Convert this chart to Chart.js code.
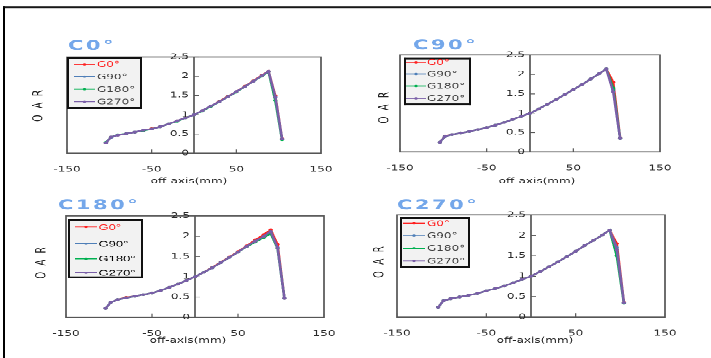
<!DOCTYPE html>
<html>
<head>
<meta charset="utf-8">
<script src="https://cdn.jsdelivr.net/npm/chart.js@4.4.0/dist/chart.umd.min.js"></script>
<style>
  html, body { margin: 0; padding: 0; background: #fff; overflow: hidden; }
  /* the reference looks squashed vertically, so the page is drawn tall and scaled down */
  #page { position: absolute; left: 0; top: 0; width: 711px; height: 568px; transform: scaleY(0.63); transform-origin: 0 0; }
  #frame { position: absolute; left: 3px; top: 10px; width: 760px; height: 640px; border-top: 3px solid #000; border-left: 2px solid #000; }
  canvas { position: absolute; }
</style>
</head>
<body>
<div id="page">
  <div id="frame"></div>
  <canvas id="c0" width="355" height="300" style="left:0;top:0"></canvas>
  <canvas id="c1" width="356" height="300" style="left:355px;top:0"></canvas>
  <canvas id="c2" width="355" height="268" style="left:0;top:300px"></canvas>
  <canvas id="c3" width="356" height="268" style="left:355px;top:300px"></canvas>
</div>
<script>
// --- data ---
const offAxis = [-104, -98, -90, -80, -70, -60, -50, -40, -30, -20, -10, 0, 10, 20, 30, 40, 50, 60, 70, 80, 88, 96, 104];
const gantryLabels = ["G0°", "G90°", "G180°", "G270°"];
const collimatorTitles = ["C0°", "C90°", "C180°", "C270°"];
const xTickValues = [-150, -50, 50, 150];
const yTickValues = [0, 0.5, 1, 1.5, 2, 2.5];

const c0_g0   = [0.27, 0.42, 0.47, 0.51, 0.55, 0.59, 0.64, 0.69, 0.76, 0.84, 0.92, 1.00, 1.11, 1.22, 1.35, 1.48, 1.60, 1.74, 1.88, 2.02, 2.13, 1.50, 0.38];
const c0_g90  = [0.27, 0.41, 0.47, 0.51, 0.55, 0.59, 0.63, 0.69, 0.76, 0.84, 0.92, 1.00, 1.11, 1.22, 1.34, 1.47, 1.60, 1.73, 1.87, 2.01, 2.12, 1.45, 0.37];
const c0_g180 = [0.28, 0.42, 0.48, 0.51, 0.55, 0.59, 0.63, 0.69, 0.76, 0.83, 0.92, 1.00, 1.10, 1.22, 1.34, 1.47, 1.59, 1.73, 1.87, 2.00, 2.12, 1.37, 0.35];
const c0_g270 = [0.27, 0.42, 0.47, 0.51, 0.55, 0.60, 0.63, 0.69, 0.76, 0.84, 0.92, 1.00, 1.11, 1.23, 1.34, 1.47, 1.60, 1.73, 1.87, 2.01, 2.13, 1.47, 0.37];

const c90_g0   = [0.25, 0.41, 0.45, 0.49, 0.53, 0.58, 0.63, 0.69, 0.76, 0.84, 0.92, 1.00, 1.11, 1.23, 1.35, 1.48, 1.61, 1.74, 1.88, 2.02, 2.14, 1.80, 0.36];
const c90_g90  = [0.25, 0.40, 0.45, 0.49, 0.53, 0.58, 0.63, 0.69, 0.76, 0.84, 0.92, 1.00, 1.11, 1.23, 1.35, 1.48, 1.61, 1.74, 1.88, 2.02, 2.14, 1.60, 0.35];
const c90_g180 = [0.25, 0.40, 0.45, 0.49, 0.53, 0.58, 0.63, 0.69, 0.76, 0.84, 0.92, 1.00, 1.11, 1.23, 1.35, 1.48, 1.61, 1.74, 1.88, 2.02, 2.14, 1.65, 0.35];
const c90_g270 = [0.25, 0.40, 0.45, 0.49, 0.53, 0.58, 0.63, 0.69, 0.76, 0.84, 0.92, 1.00, 1.11, 1.23, 1.35, 1.48, 1.61, 1.74, 1.88, 2.02, 2.14, 1.55, 0.35];

const c180_g0   = [0.22, 0.37, 0.44, 0.49, 0.52, 0.56, 0.60, 0.66, 0.74, 0.82, 0.91, 1.00, 1.11, 1.23, 1.36, 1.49, 1.62, 1.76, 1.91, 2.04, 2.16, 1.80, 0.47];
const c180_g90  = [0.22, 0.37, 0.44, 0.48, 0.52, 0.56, 0.60, 0.66, 0.74, 0.82, 0.91, 1.00, 1.11, 1.22, 1.35, 1.48, 1.61, 1.75, 1.88, 2.00, 2.12, 1.72, 0.47];
const c180_g180 = [0.22, 0.37, 0.44, 0.48, 0.52, 0.56, 0.60, 0.66, 0.74, 0.82, 0.91, 1.00, 1.11, 1.22, 1.35, 1.48, 1.61, 1.74, 1.86, 1.97, 2.07, 1.70, 0.47];
const c180_g270 = [0.22, 0.37, 0.44, 0.48, 0.52, 0.56, 0.60, 0.66, 0.74, 0.82, 0.91, 1.00, 1.11, 1.22, 1.35, 1.48, 1.61, 1.75, 1.88, 2.00, 2.12, 1.72, 0.47];

const c270_g0   = [0.24, 0.40, 0.45, 0.49, 0.53, 0.58, 0.64, 0.70, 0.76, 0.84, 0.92, 1.00, 1.11, 1.23, 1.35, 1.48, 1.61, 1.75, 1.88, 2.01, 2.13, 1.80, 0.36];
const c270_g90  = [0.24, 0.40, 0.45, 0.49, 0.53, 0.58, 0.64, 0.70, 0.76, 0.84, 0.92, 1.00, 1.11, 1.23, 1.35, 1.48, 1.61, 1.75, 1.88, 2.01, 2.13, 1.70, 0.35];
const c270_g180 = [0.24, 0.40, 0.45, 0.49, 0.53, 0.58, 0.64, 0.70, 0.76, 0.84, 0.92, 1.00, 1.11, 1.23, 1.35, 1.48, 1.61, 1.75, 1.88, 2.01, 2.13, 1.50, 0.34];
const c270_g270 = [0.24, 0.40, 0.45, 0.49, 0.53, 0.58, 0.64, 0.70, 0.76, 0.84, 0.92, 1.00, 1.11, 1.23, 1.35, 1.48, 1.61, 1.75, 1.88, 2.01, 2.13, 1.65, 0.35];

const seriesColors = ["#ff2020", "#4f7fb8", "#00b050", "#7a5fa8"];

// --- layout of the four panels (canvas-local, in unscaled page units) ---
const panels = [
  { id: "c0", series: [c0_g0, c0_g90, c0_g180, c0_g270],
    area: { left: 67, right: 321, top: 90.5, bottom: 243.3 },
    title: [68, 79], oar: [39, 168], xLabel: [189, 288],
    legend: { x: 67, y: 90.5, w: 75, h: 82.5, rows: [102, 121.7, 141.7, 161.4], line: [74, 95], text: 97, font: "12px 'DejaVu Sans'", ink: "#404040" } },
  { id: "c1", series: [c90_g0, c90_g90, c90_g180, c90_g270],
    area: { left: 45, right: 305, top: 87.3, bottom: 241.3 },
    title: [58, 78], oar: [30, 171], xLabel: [182, 288],
    legend: { x: 49, y: 91.6, w: 67, h: 75.5, rows: [98.9, 117.5, 136.5, 156], line: [51, 71], text: 72, font: "12px 'DejaVu Sans'", ink: "#404040" } },
  { id: "c2", series: [c180_g0, c180_g90, c180_g180, c180_g270],
    area: { left: 66, right: 324, top: 42.9, bottom: 203.7 },
    title: [58, 32], oar: [42, 117.5], xLabel: [188, 241],
    legend: { x: 68, y: 48, w: 75, h: 93.7, rows: [60.3, 86.8, 110.6, 132.9], line: [75, 97], text: 98.5, font: "13px 'Liberation Sans'", ink: "#000" } },
  { id: "c3", series: [c270_g0, c270_g90, c270_g180, c270_g270],
    area: { left: 42, right: 310, top: 41.3, bottom: 203.2 },
    title: [42, 32], oar: [25, 116], xLabel: [180, 241],
    legend: { x: 45, y: 44, w: 70, h: 81, rows: [54.5, 74.1, 94.1, 114.3], line: [48, 70], text: 72, font: "12px 'DejaVu Sans'", ink: "#404040" } }
];

Chart.defaults.font.family = "'DejaVu Sans'";
Chart.defaults.color = "#333";

function spacedText(ctx, text, cx, cy, gap) {
  const widths = [...text].map(ch => ctx.measureText(ch).width);
  const total = widths.reduce((s, w) => s + w, 0) + gap * (widths.length - 1);
  let pos = cx - total / 2;
  [...text].forEach((ch, i) => { ctx.fillText(ch, pos, cy); pos += widths[i] + gap; });
}

function panelPlugin(p, idx) {
  return {
    id: "panel" + idx,
    beforeDatasetsDraw(chart) {
      const { ctx, chartArea: a, scales: { x, y } } = chart;
      const x0 = x.getPixelForValue(0);
      ctx.save();
      ctx.strokeStyle = "#555";
      ctx.lineWidth = 1.7;
      ctx.strokeRect(a.left, a.top, a.right - a.left, a.bottom - a.top);
      ctx.beginPath(); ctx.moveTo(x0, a.top); ctx.lineTo(x0, a.bottom); ctx.stroke();
      ctx.lineWidth = 1.2;
      yTickValues.forEach(v => {
        const py = y.getPixelForValue(v);
        ctx.beginPath(); ctx.moveTo(x0, py); ctx.lineTo(x0 + 5, py); ctx.stroke();
      });
      xTickValues.forEach(v => {
        const px = x.getPixelForValue(v);
        ctx.beginPath(); ctx.moveTo(px, a.bottom); ctx.lineTo(px, a.bottom - 6); ctx.stroke();
      });
      ctx.restore();
    },
    afterDraw(chart) {
      const { ctx, scales: { x, y } } = chart;
      const x0 = x.getPixelForValue(0);
      ctx.save();
      // y tick labels, left of the centre axis
      ctx.font = "12px 'DejaVu Sans'";
      ctx.fillStyle = "#2a2a2a";
      ctx.textAlign = "right";
      ctx.textBaseline = "middle";
      yTickValues.forEach(v => ctx.fillText(String(v), x0 - 5, y.getPixelForValue(v)));

      // legend box
      const L = p.legend;
      ctx.fillStyle = "#f2f2f2";
      ctx.fillRect(L.x, L.y, L.w, L.h);
      ctx.fillStyle = "#111";
      ctx.fillRect(L.x, L.y, L.w, 3);
      ctx.fillRect(L.x, L.y + L.h - 3, L.w, 3);
      ctx.fillRect(L.x, L.y, 2, L.h);
      ctx.fillRect(L.x + L.w - 2, L.y, 2, L.h);
      ctx.font = L.font;
      ctx.textAlign = "left";
      gantryLabels.forEach((lab, i) => {
        const ry = L.rows[i];
        ctx.strokeStyle = seriesColors[i];
        ctx.lineWidth = 1.8;
        ctx.beginPath(); ctx.moveTo(L.line[0], ry); ctx.lineTo(L.line[1], ry); ctx.stroke();
        ctx.fillStyle = seriesColors[i];
        ctx.beginPath(); ctx.arc((L.line[0] + L.line[1]) / 2, ry, 1.8, 0, Math.PI * 2); ctx.fill();
        ctx.fillStyle = i === 0 ? seriesColors[0] : L.ink;
        ctx.fillText(lab, L.text, ry + 1);
      });

      // panel title, loosely spaced
      ctx.font = "bold 21px 'DejaVu Sans'";
      ctx.fillStyle = "#74a7ea";
      ctx.textBaseline = "alphabetic";
      let tx = p.title[0];
      [...collimatorTitles[idx]].forEach(ch => { ctx.fillText(ch, tx, p.title[1]); tx += ctx.measureText(ch).width + 2.5; });

      // axis titles
      ctx.fillStyle = "#222";
      ctx.font = "12px 'DejaVu Sans'";
      ctx.textAlign = "center";
      ctx.textBaseline = "middle";
      ctx.fillText("off-axis(mm)", p.xLabel[0], p.xLabel[1]);
      ctx.save();
      ctx.translate(p.oar[0], p.oar[1]);
      ctx.rotate(-Math.PI / 2);
      ctx.font = "14px 'DejaVu Sans'";
      ctx.textAlign = "left";
      spacedText(ctx, "OAR", 0, 0, 10);
      ctx.restore();
      ctx.restore();
    }
  };
}

panels.forEach((p, idx) => {
  const canvas = document.getElementById(p.id);
  const W = canvas.width, H = canvas.height;
  const pad = { left: p.area.left, top: p.area.top, right: W - p.area.right, bottom: H - p.area.bottom - 30 };
  const datasets = p.series.map((vals, i) => ({
    label: gantryLabels[i],
    data: offAxis.map((xv, k) => ({ x: xv, y: vals[k] })),
    borderColor: seriesColors[i],
    backgroundColor: seriesColors[i],
    borderWidth: 2.5,
    pointRadius: 2.2,
    pointBorderWidth: 0,
    tension: 0,
    order: 4 - i
  }));
  const chart = new Chart(canvas, {
    type: "line",
    data: { datasets },
    options: {
      responsive: false,
      animation: false,
      devicePixelRatio: 2,
      layout: { padding: pad },
      plugins: { legend: { display: false }, tooltip: { enabled: false } },
      scales: {
        x: {
          type: "linear", min: -150, max: 150,
          grid: { display: false, drawTicks: false },
          border: { display: false },
          afterBuildTicks: s => { s.ticks = xTickValues.map(v => ({ value: v })); },
          ticks: { padding: 19, font: { size: 12 }, color: "#2a2a2a", maxRotation: 0, autoSkip: false }
        },
        y: {
          type: "linear", min: 0, max: 2.5,
          position: { x: 0 },
          grid: { display: false, drawTicks: false },
          border: { display: false },
          afterBuildTicks: s => { s.ticks = yTickValues.map(v => ({ value: v })); },
          ticks: { display: false }
        }
      }
    },
    plugins: [panelPlugin(p, idx)]
  });
  // nudge the padding so the plot area lands where the reference has it
  for (let n = 0; n < 2; n++) {
    const a = chart.chartArea;
    pad.left += p.area.left - a.left;
    pad.top += p.area.top - a.top;
    pad.right += a.right - p.area.right;
    pad.bottom += a.bottom - p.area.bottom;
    chart.options.layout.padding = { ...pad };
    chart.update("none");
  }
});
</script>
</body>
</html>
